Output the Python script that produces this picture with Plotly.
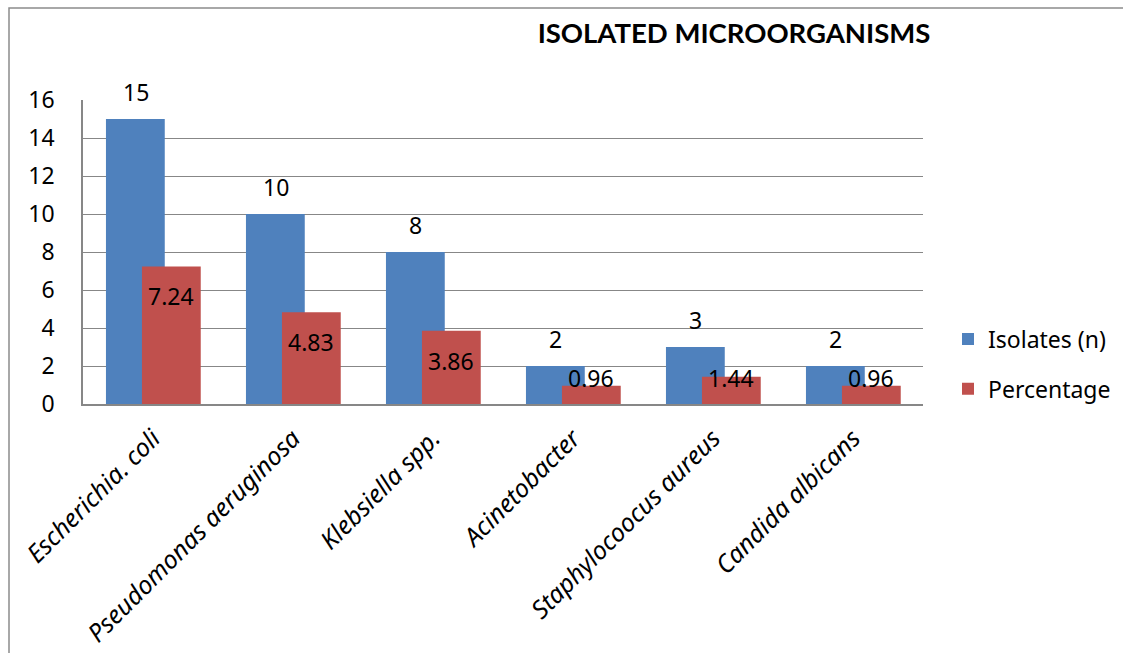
import plotly.graph_objects as go

# Isolated microorganisms: counts and percentages
organisms = ["Escherichia. coli", "Pseudomonas aeruginosa", "Klebsiella spp.",
             "Acinetobacter", "Staphylocoocus aureus", "Candida albicans"]
isolates = [15, 10, 8, 2, 3, 2]
percentage = [7.24, 4.83, 3.86, 0.96, 1.44, 0.96]
y_ticks = [0, 2, 4, 6, 8, 10, 12, 14, 16]

BLUE = "#4F81BD"
RED = "#C0504D"
GRID = "#878787"
FONT = "Noto Sans"
TITLE_FONT = "Lato"
FS = 23

W, H = 1123, 653
L, R, T, B = 83, 923, 100, 404   # plot area in pixels

fig = go.Figure()
fig.add_trace(go.Bar(
    x=organisms, y=isolates, name="Isolates (n)", legendgroup="a",
    marker=dict(color=BLUE, line=dict(width=0)),
    width=0.42, offset=-0.336,
))
fig.add_trace(go.Bar(
    x=organisms, y=percentage, name="Percentage", legendgroup="b",
    marker=dict(color=RED, line=dict(width=0)),
    width=0.42, offset=-0.079,
))

# value labels: counts above the blue bars, percentages inside the red bars
for i, (n, p) in enumerate(zip(isolates, percentage)):
    fig.add_annotation(x=i, y=n, text=str(n), showarrow=False,
                       xshift=-0.125 * 140, yshift=27, yanchor="middle",
                       font=dict(family=FONT, size=FS, color="#000000"))
    py = max(p - 30 / 19, 1.37)
    fig.add_annotation(x=i, y=py, text=f"{p:.2f}", showarrow=False,
                       xshift=0.131 * 140, yanchor="middle",
                       font=dict(family=FONT, size=FS, color="#000000"))

# outer chart frame
pw, ph = R - L, B - T
fig.add_shape(type="rect", xref="paper", yref="paper",
              x0=(9 - L) / pw, x1=(W + 40 - L) / pw,
              y0=(B - (H + 40)) / ph, y1=(B - 8) / ph,
              line=dict(color="#8c8c8c", width=1.5), fillcolor="rgba(0,0,0,0)")

fig.update_layout(
    width=W, height=H,
    margin=dict(l=L, r=W - R, t=T, b=H - B, pad=0, autoexpand=False),
    paper_bgcolor="white", plot_bgcolor="white",
    barmode="overlay",
    font=dict(family=FONT, size=FS, color="#000000"),
    title=dict(text="<b>ISOLATED MICROORGANISMS</b>",
               x=(734 - L) / pw, xref="paper", xanchor="center",
               y=1 - 33 / H, yref="container", yanchor="middle",
               font=dict(family=TITLE_FONT, size=27.5, color="#000000")),
    legend=dict(x=(948 - L) / pw, xanchor="left", y=(B - 364) / ph, yanchor="middle",
                traceorder="grouped", tracegroupgap=17,
                font=dict(family=FONT, size=FS, color="#000000"),
                bgcolor="rgba(0,0,0,0)"),
    showlegend=True,
)
fig.update_xaxes(
    type="category", range=[-0.5, 5.5], automargin=False,
    tickangle=-45, tickfont=dict(family=FONT, size=25, style="italic"),
    showgrid=False, showline=True, linecolor=GRID, linewidth=1.5,
    ticks="", ticklabelstandoff=8,
)
fig.update_yaxes(
    range=[0, 16], tickvals=y_ticks, ticktext=[str(v) for v in y_ticks],
    automargin=False,
    showgrid=True, gridcolor=GRID, gridwidth=1,
    showline=True, linecolor=GRID, linewidth=1.5,
    zeroline=False, ticks="", ticklabelstandoff=22,
    tickfont=dict(family=FONT, size=FS),
)

fig.write_html("out.html")
